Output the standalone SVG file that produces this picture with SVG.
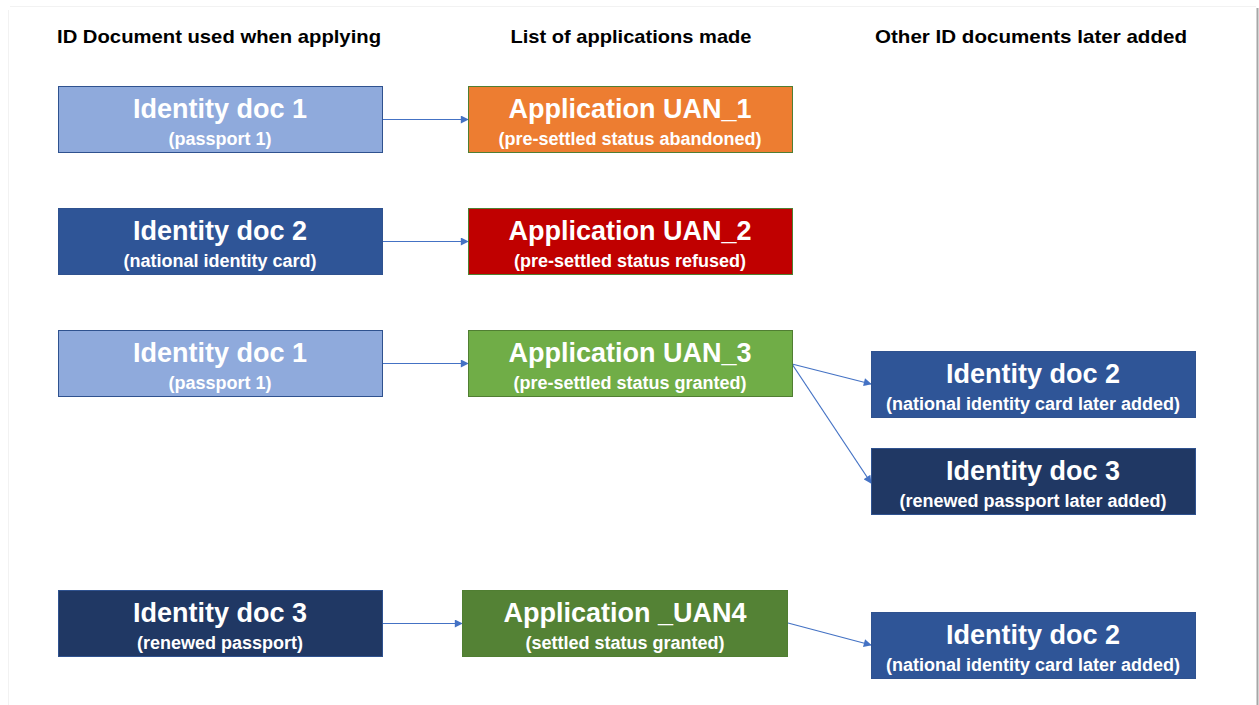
<svg xmlns="http://www.w3.org/2000/svg" width="1259" height="705" viewBox="0 0 1259 705">
<defs>
<marker id="arr" viewBox="0 0 10 10" refX="9" refY="5" markerWidth="9" markerHeight="8" markerUnits="userSpaceOnUse" orient="auto">
<path d="M0,0 L10,5 L0,10 z" fill="#4472c4"/>
</marker>
<style>
.hdr{font-family:"Liberation Sans",Arial,sans-serif;font-weight:bold;font-size:19px;fill:#000;text-anchor:middle}
.t{font-family:"Liberation Sans",Arial,sans-serif;font-weight:bold;font-size:27px;fill:#fff;text-anchor:middle}
.s{font-family:"Liberation Sans",Arial,sans-serif;font-weight:bold;font-size:18px;fill:#fff;text-anchor:middle}
.b{stroke:#2f528f;stroke-width:1}
.g{stroke:#507e32;stroke-width:1}
.c{stroke:#4472c4;stroke-width:1.2;fill:none;marker-end:url(#arr)}
</style>
</defs>
<rect width="1259" height="705" fill="#ffffff"/>
<line x1="1257.5" y1="8" x2="1257.5" y2="705" stroke="#a6a6a6" stroke-width="2"/>
<line x1="10" y1="6.5" x2="1256" y2="6.5" stroke="#f2f2f2" stroke-width="1"/>
<line x1="8.5" y1="10" x2="8.5" y2="705" stroke="#f2f2f2" stroke-width="1"/>
<g id="headers">
<text class="hdr" x="219" y="43" textLength="324" lengthAdjust="spacingAndGlyphs">ID Document used when applying</text>
<text class="hdr" x="631" y="43" textLength="241" lengthAdjust="spacingAndGlyphs">List of applications made</text>
<text class="hdr" x="1031" y="43" textLength="312" lengthAdjust="spacingAndGlyphs">Other ID documents later added</text>
</g>
<g id="connectors">
<line class="c" x1="383" y1="119.5" x2="468" y2="119.5"/>
<line class="c" x1="383" y1="241.5" x2="468" y2="241.5"/>
<line class="c" x1="383" y1="363.5" x2="468" y2="363.5"/>
<line class="c" x1="792" y1="364" x2="871" y2="384"/>
<line class="c" x1="792" y1="364" x2="871" y2="483"/>
<line class="c" x1="383" y1="623.5" x2="462" y2="623.5"/>
<line class="c" x1="788" y1="623" x2="871" y2="645"/>
</g>
<g id="id1a">
<rect class="b" x="58.5" y="86.5" width="324" height="66" fill="#8faadc"/>
<text class="t" x="220" y="118">Identity doc 1</text>
<text class="s" x="220" y="145">(passport 1)</text>
</g>
<g id="app1">
<rect class="g" x="468.5" y="86.5" width="324" height="66" fill="#ed7d31"/>
<text class="t" x="630" y="118">Application UAN_1</text>
<text class="s" x="630" y="145">(pre-settled status abandoned)</text>
</g>
<g id="id2a">
<rect class="b" x="58.5" y="208.5" width="324" height="66" fill="#2f5597"/>
<text class="t" x="220" y="240">Identity doc 2</text>
<text class="s" x="220" y="267">(national identity card)</text>
</g>
<g id="app2">
<rect class="g" x="468.5" y="208.5" width="324" height="66" fill="#c00000"/>
<text class="t" x="630" y="240">Application UAN_2</text>
<text class="s" x="630" y="267">(pre-settled status refused)</text>
</g>
<g id="id1b">
<rect class="b" x="58.5" y="330.5" width="324" height="66" fill="#8faadc"/>
<text class="t" x="220" y="362">Identity doc 1</text>
<text class="s" x="220" y="389">(passport 1)</text>
</g>
<g id="app3">
<rect class="g" x="468.5" y="330.5" width="324" height="66" fill="#70ad47"/>
<text class="t" x="630" y="362">Application UAN_3</text>
<text class="s" x="630" y="389">(pre-settled status granted)</text>
</g>
<g id="id2b">
<rect class="b" x="871.5" y="351.5" width="324" height="66" fill="#2f5597"/>
<text class="t" x="1033" y="383">Identity doc 2</text>
<text class="s" x="1033" y="410">(national identity card later added)</text>
</g>
<g id="id3b">
<rect class="b" x="871.5" y="448.5" width="324" height="66" fill="#203864"/>
<text class="t" x="1033" y="480">Identity doc 3</text>
<text class="s" x="1033" y="507">(renewed passport later added)</text>
</g>
<g id="id3a">
<rect class="b" x="58.5" y="590.5" width="324" height="66" fill="#203864"/>
<text class="t" x="220" y="622">Identity doc 3</text>
<text class="s" x="220" y="649">(renewed passport)</text>
</g>
<g id="app4">
<rect class="g" x="462.5" y="590.5" width="325" height="66" fill="#548235"/>
<text class="t" x="625" y="622">Application _UAN4</text>
<text class="s" x="625" y="649">(settled status granted)</text>
</g>
<g id="id2c">
<rect class="b" x="871.5" y="612.5" width="324" height="66" fill="#2f5597"/>
<text class="t" x="1033" y="644">Identity doc 2</text>
<text class="s" x="1033" y="671">(national identity card later added)</text>
</g>
</svg>
